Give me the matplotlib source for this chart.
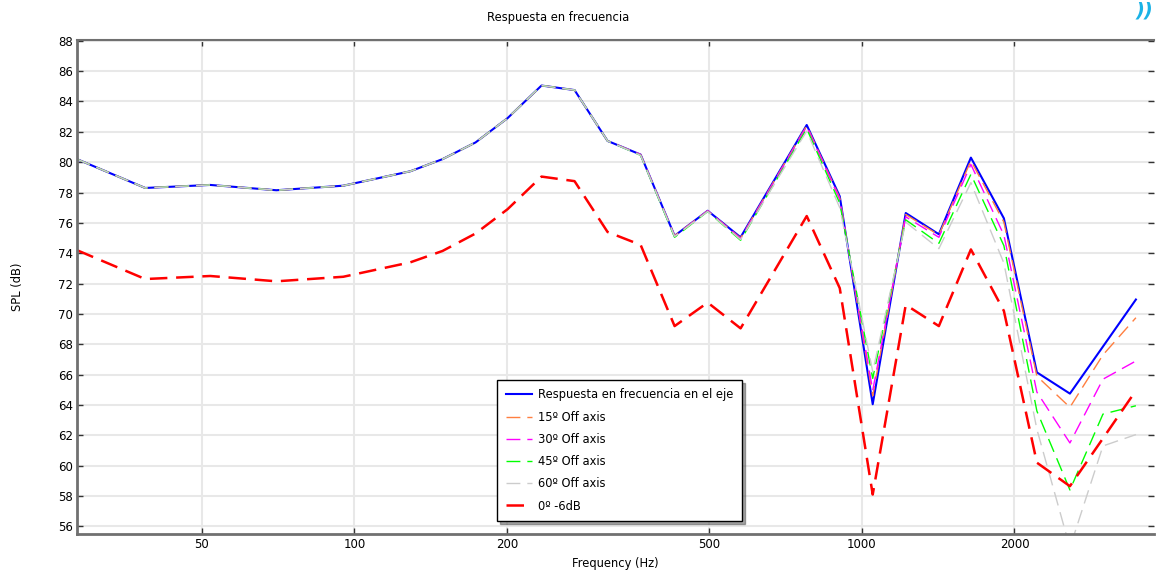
import matplotlib
matplotlib.use("Agg")
import matplotlib.pyplot as plt
from matplotlib.ticker import NullLocator

# frequency points (Hz)
freqs = [28.4, 38.7, 52.0, 70.2, 95.1, 128.9, 149.2, 173.3, 200.4, 233.8,
         271.6, 315.5, 366.6, 427.7, 497.0, 577.0, 779.0, 905.0, 1051.0,
         1221.0, 1419.0, 1641.0, 1906.0, 2214.0, 2572.0, 2988.0, 3470.0]

# SPL (dB) per measurement angle
on_axis = [80.2, 78.3, 78.5, 78.15, 78.45, 79.4, 80.2, 81.3, 82.9, 85.05,
           84.75, 81.4, 80.5, 75.15, 76.8, 75.05, 82.45, 77.75, 64.05,
           76.65, 75.25, 80.3, 76.3, 66.15, 64.75, 67.85, 70.95]
off_15 = [80.2, 78.3, 78.5, 78.15, 78.45, 79.4, 80.2, 81.3, 82.9, 85.05,
          84.75, 81.4, 80.5, 75.15, 76.8, 75.0, 82.4, 77.65, 64.6,
          76.55, 75.2, 80.1, 76.05, 65.9, 63.85, 67.3, 69.75]
off_30 = [80.2, 78.3, 78.5, 78.15, 78.45, 79.4, 80.2, 81.3, 82.9, 85.05,
          84.75, 81.4, 80.5, 75.1, 76.8, 74.95, 82.35, 77.55, 64.95,
          76.4, 75.05, 79.85, 75.2, 64.85, 61.5, 65.7, 66.9]
off_45 = [80.2, 78.3, 78.5, 78.15, 78.45, 79.4, 80.2, 81.3, 82.9, 85.05,
          84.75, 81.4, 80.45, 75.05, 76.75, 74.85, 82.2, 77.3, 65.75,
          76.2, 74.65, 79.2, 74.5, 63.6, 58.4, 63.4, 63.95]
off_60 = [80.2, 78.3, 78.5, 78.15, 78.45, 79.4, 80.2, 81.3, 82.9, 85.05,
          84.75, 81.4, 80.45, 75.1, 76.75, 74.9, 82.05, 77.0, 66.2,
          76.05, 74.3, 78.65, 73.35, 62.4, 54.6, 61.3, 62.05]
minus_6db = [74.2, 72.3, 72.5, 72.15, 72.45, 73.4, 74.15, 75.3, 76.9, 79.05,
             78.75, 75.4, 74.55, 69.2, 70.75, 69.05, 76.45, 71.7, 58.1,
             70.6, 69.2, 74.25, 70.2, 60.2, 58.65, 61.8, 64.95]

labels = ["Respuesta en frecuencia en el eje", "15º Off axis", "30º Off axis",
          "45º Off axis", "60º Off axis", "0º -6dB"]

x_ticks = [50, 100, 200, 500, 1000, 2000]
y_ticks = list(range(56, 89, 2))

plt.rcParams["font.family"] = "DejaVu Sans"
fig = plt.figure(figsize=(11.56, 5.77), dpi=100)
ax = fig.add_axes([77 / 1156, 1 - 534 / 577, 1077 / 1156, 494 / 577])

ax.plot(freqs, on_axis, color="#0000ff", lw=1.5, label=labels[0])
ax.plot(freqs, off_15, color="#ff7f40", lw=1.0, dashes=(10, 5), label=labels[1])
ax.plot(freqs, off_30, color="#ff00ff", lw=1.0, dashes=(10, 5), label=labels[2])
ax.plot(freqs, off_45, color="#00ff00", lw=1.0, dashes=(10, 5), label=labels[3])
ax.plot(freqs, off_60, color="#cccccc", lw=1.0, dashes=(10, 5), label=labels[4])
ax.plot(freqs, minus_6db, color="#ff0000", lw=1.8, dashes=(7, 3.5), label=labels[5])

ax.set_xscale("log")
ax.set_xlim(28.4, 3767)
ax.set_ylim(55.5, 88.05)
ax.set_xticks(x_ticks)
ax.set_xticklabels([str(t) for t in x_ticks])
ax.xaxis.set_minor_locator(NullLocator())
ax.set_yticks(y_ticks)

ax.grid(True, color="#e8e8e8", lw=1.5)
ax.set_axisbelow(True)
ax.tick_params(axis="both", direction="in", length=4, width=1, color="#333333",
               labelsize=8.5, top=True, right=True, pad=3)
for side in ["left", "bottom"]:
    ax.spines[side].set_color("#707070")
    ax.spines[side].set_linewidth(2)
ax.spines["top"].set_color("#707070")
ax.spines["top"].set_linewidth(1.5)
ax.spines["right"].set_visible(False)

fig.text(558 / 1156, 1 - 17 / 577, "Respuesta en frecuencia", fontsize=8.3,
         ha="center", va="center")
ax.set_xlabel("Frequency (Hz)", fontsize=8.3, labelpad=4)
ax.set_ylabel("SPL (dB)", fontsize=8.3, labelpad=24)

leg = ax.legend(loc="lower left", bbox_to_anchor=(0.39, 0.026), borderaxespad=0,
                fontsize=8.3, frameon=True, fancybox=False, shadow=True,
                edgecolor="black", handlelength=2.3, labelspacing=0.8,
                borderpad=0.75, handletextpad=0.5)
leg.get_frame().set_linewidth(1.0)

fig.text(0.998, 0.998, "))", color="#1ab2e6", fontsize=14, fontweight="bold",
         fontstyle="italic", ha="right", va="top")

fig.savefig("out.png", dpi=100)
